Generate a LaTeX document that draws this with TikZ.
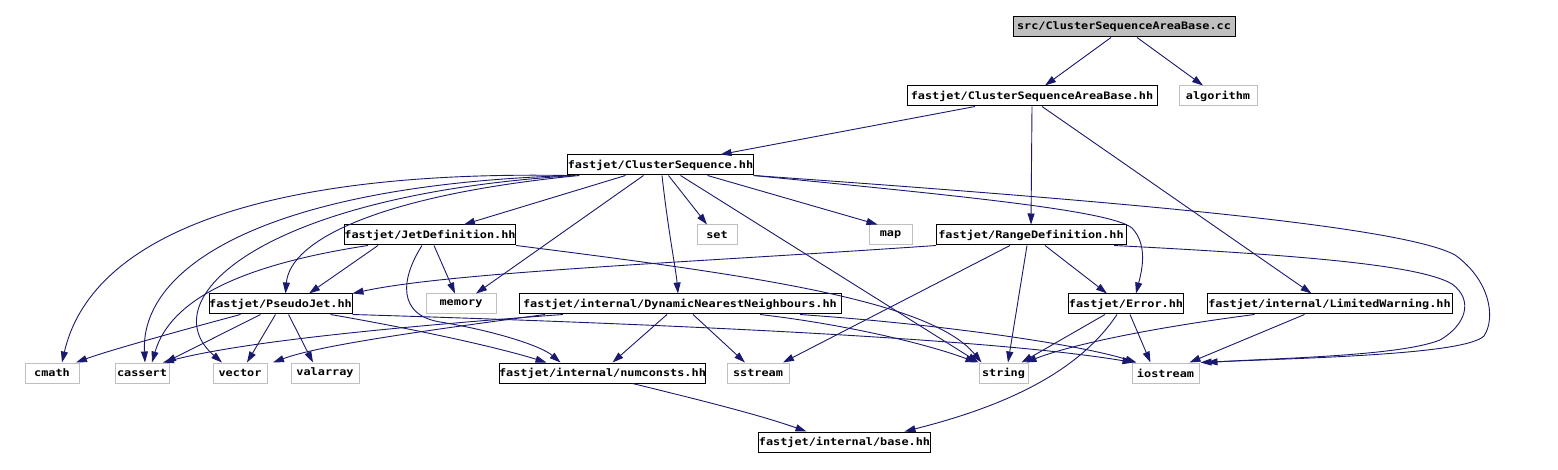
\documentclass[tikz,border=0pt]{standalone}
\usepackage{fontspec}
\usetikzlibrary{arrows.meta}
\newfontfamily\incfont[FakeStretch=1.15]{DejaVu Sans Mono}
\definecolor{EdgeBlue}{HTML}{191970}
\definecolor{SysGray}{HTML}{BFBFBF}

\begin{document}
\begin{tikzpicture}[x=1pt,y=-1pt,
  box/.style={rectangle,inner sep=0pt,minimum height=20pt,line width=1pt,font=\incfont\bfseries\fontsize{10.3}{12}\selectfont},
  incnode/.style={box,draw=black},
  sysnode/.style={box,draw=SysGray},
  srcnode/.style={box,draw=black,fill=SysGray},
  dep/.style={-{Triangle[length=11pt,width=7pt]},EdgeBlue,line width=0.9pt}]
\useasboundingbox[fill=white] (0,0) rectangle (1558,470);
% files
\node[srcnode,minimum width=222pt] (cc) at (1124,27) {src/ClusterSequenceAreaBase.cc};
\node[incnode,minimum width=250pt] (areabase) at (1032,96) {fastjet/ClusterSequenceAreaBase.hh};
\node[sysnode,minimum width=78pt] (algorithm) at (1218,96) {algorithm};
\node[incnode,minimum width=185pt] (clseq) at (660.5,165) {fastjet/ClusterSequence.hh};
\node[sysnode,minimum width=40pt] (set) at (717,235) {set};
\node[sysnode,minimum width=43pt] (map) at (890.5,235) {map};
\node[incnode,minimum width=164pt] (jetdef) at (430,235) {fastjet/JetDefinition.hh};
\node[incnode,minimum width=190pt] (rangedef) at (1031,235) {fastjet/RangeDefinition.hh};
\node[incnode,minimum width=143pt] (pseudojet) at (280.5,304) {fastjet/PseudoJet.hh};
\node[sysnode,minimum width=70pt] (memory) at (461,304) {memory};
\node[incnode,minimum width=322pt] (dnn) at (680,304) {fastjet/internal/DynamicNearestNeighbours.hh};
\node[incnode,minimum width=114pt] (error) at (1126,304) {fastjet/Error.hh};
\node[incnode,minimum width=245pt] (limwarn) at (1329.5,304) {fastjet/internal/LimitedWarning.hh};
\node[sysnode,minimum width=54pt] (cmath) at (52,373) {cmath};
\node[sysnode,minimum width=54pt] (cassert) at (142,373) {cassert};
\node[sysnode,minimum width=54pt] (vector) at (240,373) {vector};
\node[sysnode,minimum width=68pt] (valarray) at (325,373) {valarray};
\node[incnode,minimum width=203pt] (numconsts) at (602.5,373) {fastjet/internal/numconsts.hh};
\node[sysnode,minimum width=62pt] (sstream) at (758,373) {sstream};
\node[sysnode,minimum width=49pt] (string) at (1003.5,373) {string};
\node[sysnode,minimum width=67pt] (iostream) at (1165.5,373) {iostream};
\node[incnode,minimum width=163pt] (base) at (844.5,442) {fastjet/internal/base.hh};
% includes of the source and the area base
\draw[dep] ([xshift=-13pt]cc.south) -- ([xshift=13pt]areabase.north);
\draw[dep] ([xshift=13pt]cc.south) -- ([xshift=-15pt]algorithm.north);
\draw[dep] ([xshift=-57pt]areabase.south) -- ([xshift=60pt]clseq.north);
\draw[dep] (areabase.south) -- (rangedef.north);
\draw[dep] ([xshift=10pt]areabase.south) -- ([xshift=-18pt]limwarn.north);
% includes of ClusterSequence.hh
\draw[dep] (clseq.south west) .. controls (250,170) and (90,240) .. ([xshift=10pt]cmath.north);
\draw[dep] ([xshift=4pt]clseq.south west) .. controls (270,185) and (140,265) .. ([xshift=3pt]cassert.north);
\draw[dep] ([xshift=8pt]clseq.south west) .. controls (260,195) and (150,300) .. ([xshift=-18pt]vector.north);
\draw[dep] ([xshift=12pt]clseq.south west) .. controls (380,195) and (290,240) .. ([xshift=5pt]pseudojet.north);
\draw[dep] ([xshift=-35pt]clseq.south) -- ([xshift=34pt]jetdef.north);
\draw[dep] ([xshift=-17pt]clseq.south) -- ([xshift=15pt]memory.north);
\draw[dep] ([xshift=1.5pt]clseq.south) .. controls (668,230) and (676,270) .. ([xshift=-2pt]dnn.north);
\draw[dep] ([xshift=8pt]clseq.south) -- ([xshift=-10pt]set.north);
\draw[dep] ([xshift=20pt]clseq.south) -- ([xshift=-25pt]string.north);
\draw[dep] ([xshift=47pt]clseq.south) -- ([xshift=-13pt]map.north);
\draw[dep] (clseq.south east) .. controls (950,195) and (1110,210) .. (1132,228) .. controls (1148,245) and (1142,270) .. ([xshift=10pt]error.north);
\draw[dep] (clseq.south east) .. controls (1100,200) and (1400,225) .. (1455,255) .. controls (1490,280) and (1496,318) .. (1484,336) .. controls (1465,355) and (1300,358) .. ([xshift=1pt]iostream.north east);
% includes of JetDefinition.hh and RangeDefinition.hh
\draw[dep] ([xshift=-52pt]jetdef.south) -- ([xshift=28.5pt]pseudojet.north);
\draw[dep] ([xshift=4pt]jetdef.south) -- ([xshift=-6pt]memory.north);
\draw[dep] ([xshift=-8pt]jetdef.south) .. controls (400,280) and (398,315) .. (440,322) .. controls (490,330) and (540,345) .. ([xshift=-42pt]numconsts.north);
\draw[dep] ([xshift=-62pt]jetdef.south) .. controls (240,265) and (170,300) .. ([xshift=10pt]cassert.north);
\draw[dep] (jetdef.south east) .. controls (750,275) and (930,300) .. ([xshift=-22pt]string.north);
\draw[dep] ([xshift=-95pt]rangedef.south) .. controls (700,262) and (450,272) .. (pseudojet.north east);
\draw[dep] ([xshift=-21pt]rangedef.south) -- ([xshift=25pt]sstream.north);
\draw[dep] ([xshift=-4pt]rangedef.south) -- ([xshift=4.5pt]string.north);
\draw[dep] ([xshift=14pt]rangedef.south) -- ([xshift=-19pt]error.north);
\draw[dep] ([xshift=83pt]rangedef.south) .. controls (1300,255) and (1420,265) .. (1452,284) .. controls (1474,300) and (1466,325) .. (1440,340) .. controls (1400,356) and (1280,358) .. ([xshift=7pt]iostream.north east);
% includes of PseudoJet.hh and DynamicNearestNeighbours.hh
\draw[dep] ([xshift=-40pt]pseudojet.south) .. controls (190,328) and (110,350) .. ([xshift=24pt]cmath.north);
\draw[dep] ([xshift=-20pt]pseudojet.south) -- ([xshift=23pt]cassert.north);
\draw[dep] ([xshift=-5pt]pseudojet.south) -- ([xshift=7pt]vector.north);
\draw[dep] ([xshift=8pt]pseudojet.south) -- ([xshift=-12pt]valarray.north);
\draw[dep] ([xshift=50pt]pseudojet.south) .. controls (420,330) and (500,348) .. ([xshift=-56pt]numconsts.north);
\draw[dep] (pseudojet.south east) .. controls (700,325) and (1000,340) .. ([xshift=-32pt]iostream.north);
\draw[dep] ([xshift=-117pt]dnn.south) .. controls (420,325) and (250,340) .. ([xshift=21pt]cassert.north);
\draw[dep] ([xshift=-135pt]dnn.south) .. controls (430,330) and (320,345) .. ([xshift=33pt]vector.north);
\draw[dep] ([xshift=-13pt]dnn.south) -- ([xshift=10pt]numconsts.north);
\draw[dep] ([xshift=13pt]dnn.south) -- ([xshift=-13pt]sstream.north);
\draw[dep] ([xshift=80pt]dnn.south) .. controls (850,325) and (930,345) .. ([xshift=-27pt]string.north);
\draw[dep] ([xshift=120pt]dnn.south) .. controls (950,325) and (1080,345) .. ([xshift=-29pt]iostream.north);
% includes of Error.hh, LimitedWarning.hh and numconsts.hh
\draw[dep] ([xshift=-21pt]error.south) -- ([xshift=18pt]string.north);
\draw[dep] ([xshift=4pt]error.south) -- ([xshift=-15pt]iostream.north);
\draw[dep] ([xshift=-9pt]error.south) .. controls (1080,370) and (1010,405) .. ([xshift=60pt]base.north);
\draw[dep] ([xshift=-75pt]limwarn.south) .. controls (1150,328) and (1070,345) .. ([xshift=22pt]string.north);
\draw[dep] ([xshift=-25pt]limwarn.south) -- ([xshift=24pt]iostream.north);
\draw[dep] ([xshift=30pt]numconsts.south) .. controls (700,400) and (760,415) .. ([xshift=-38pt]base.north);
\end{tikzpicture}
\end{document}
